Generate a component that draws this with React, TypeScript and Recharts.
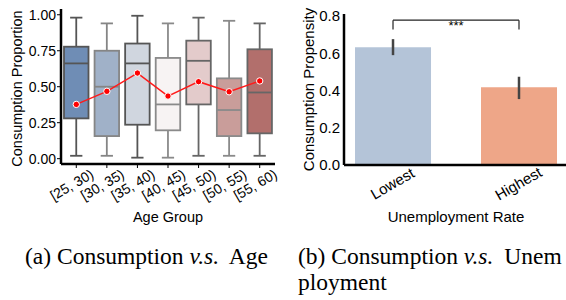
import React from "react";
import {
  ComposedChart,
  BarChart,
  Bar,
  Line,
  XAxis,
  YAxis,
  Cell,
  ErrorBar,
  ReferenceLine,
  ReferenceDot,
} from "recharts";

// ---------- Panel (a) data ----------
const ageGroups = ["[25, 30)", "[30, 35)", "[35, 40)", "[40, 45)", "[45, 50)", "[50, 55)", "[55, 60)"];
const whiskerLow = [0.02, 0.02, 0.007, 0.007, 0.02, 0.02, 0.02];
const quartile1 = [0.28, 0.157, 0.236, 0.197, 0.377, 0.157, 0.176];
const medians = [0.662, 0.5, 0.662, 0.377, 0.68, 0.338, 0.46];
const quartile3 = [0.778, 0.75, 0.8, 0.7, 0.82, 0.558, 0.76];
const whiskerHigh = [0.98, 0.94, 0.993, 0.94, 0.98, 0.958, 0.94];
const meanProportion = [0.377, 0.468, 0.595, 0.435, 0.535, 0.465, 0.54];
const leftTicks = [0, 0.25, 0.5, 0.75, 1.0];

// ---------- Panel (b) data ----------
const rates = ["Lowest", "Highest"];
const propensity = [0.632, 0.417];
const ciLow = [0.59, 0.354];
const ciHigh = [0.676, 0.474];
const bracketBottom = 0.728;
const bracketTop = 0.778;
const sigLabel = "***";
const rightTicks = [0, 0.2, 0.4, 0.6, 0.8];

// ---------- styles ----------
const boxFills = ["#6f8db5", "#a0b1c8", "#d0d6df", "#f7f3f3", "#e3cbcb", "#c99d9a", "#b26f6c"];
const boxEdges = ["#555555", "#858585", "#555555", "#8a8a8a", "#666666", "#8a8a8a", "#666666"];
const barFills = ["#b4c4d8", "#eea688"];
const FONT = "'Liberation Sans', Arial, sans-serif";
const SERIF = "'Liberation Serif', 'Times New Roman', serif";

const boxData = ageGroups.map((g, i) => ({
  group: g,
  lo: whiskerLow[i],
  q1: quartile1[i],
  med: medians[i],
  q3: quartile3[i],
  hi: whiskerHigh[i],
  mean: meanProportion[i],
}));

const barData = rates.map((r, i) => ({
  pos: i,
  name: r,
  value: propensity[i],
  err: [propensity[i] - ciLow[i], ciHigh[i] - propensity[i]],
}));

const BoxShape = (props: any) => {
  const { x, y, width, height, payload, index } = props;
  const { lo, hi, q1, q3, med } = payload;
  const py = (v: number) => y + (height * (hi - v)) / (hi - lo);
  const cx = x + width / 2;
  const edge = boxEdges[index];
  const cap = width / 4;
  return (
    <g>
      <line x1={cx} x2={cx} y1={py(hi)} y2={py(q3)} stroke={edge} strokeWidth={1.8} />
      <line x1={cx} x2={cx} y1={py(q1)} y2={py(lo)} stroke={edge} strokeWidth={1.8} />
      <line x1={cx - cap} x2={cx + cap} y1={py(hi)} y2={py(hi)} stroke={edge} strokeWidth={1.8} />
      <line x1={cx - cap} x2={cx + cap} y1={py(lo)} y2={py(lo)} stroke={edge} strokeWidth={1.8} />
      <rect
        x={x}
        y={py(q3)}
        width={width}
        height={py(q1) - py(q3)}
        fill={boxFills[index]}
        stroke={edge}
        strokeWidth={1.8}
      />
      <line x1={x} x2={x + width} y1={py(med)} y2={py(med)} stroke={edge} strokeWidth={1.8} />
    </g>
  );
};

const LeftTick = (props: any) => {
  const { x, y, payload } = props;
  return (
    <text
      x={x - 2}
      y={y + 19}
      textAnchor="middle"
      fontSize={14}
      fontFamily={FONT}
      fill="#000"
      transform={`rotate(-30, ${x - 2}, ${y + 19})`}
    >
      {payload.value}
    </text>
  );
};

const RightTick = (props: any) => {
  const { x, y, payload } = props;
  const label = rates[payload.value];
  return (
    <text
      x={x + 2}
      y={y + 23}
      textAnchor="middle"
      fontSize={15}
      fontFamily={FONT}
      fill="#000"
      transform={`rotate(-30, ${x + 2}, ${y + 23})`}
    >
      {label}
    </text>
  );
};

const MeanDot = (props: any) => {
  const { cx, cy } = props;
  return <circle cx={cx} cy={cy} r={3.2} fill="#ff0000" stroke="#ffffff" strokeWidth={1} />;
};

const frame = { stroke: "#000", strokeWidth: 2.5 };

const captionStyle: React.CSSProperties = {
  position: "absolute",
  fontFamily: SERIF,
  fontSize: 23.5,
  lineHeight: "26px",
  whiteSpace: "nowrap",
  color: "#000",
};

const vs = <i style={{ marginRight: 5 }}>v.s.</i>;

export default function App() {
  return (
    <div
      style={{
        position: "absolute",
        left: 0,
        top: 0,
        width: 566,
        height: 300,
        overflow: "hidden",
        background: "#fff",
      }}
    >
      <div style={{ position: "absolute", left: 0, top: 0 }}>
        <ComposedChart
          width={290}
          height={230}
          data={boxData}
          margin={{ top: 9, right: 15, left: 0, bottom: 0 }}
        >
          <XAxis
            dataKey="group"
            height={66}
            axisLine={frame}
            tickLine={{ stroke: "#000", strokeWidth: 1 }}
            tickSize={4}
            tickMargin={2}
            interval={0}
            tick={<LeftTick />}
            label={{
              value: "Age Group",
              position: "insideBottom",
              offset: 8,
              fontSize: 14.5,
              fontFamily: FONT,
              fill: "#000",
            }}
          />
          <XAxis
            xAxisId="top"
            dataKey="group"
            orientation="top"
            height={0}
            tick={false}
            tickLine={false}
            axisLine={frame}
          />
          <YAxis
            width={61}
            type="number"
            domain={[-0.037, 1.04]}
            ticks={leftTicks}
            tickFormatter={(v: number) => v.toFixed(2)}
            axisLine={frame}
            tickLine={{ stroke: "#000", strokeWidth: 1 }}
            tickSize={4}
            tickMargin={1}
            tick={{ fontSize: 14, fontFamily: FONT, fill: "#000" }}
            label={{
              value: "Consumption Proportion",
              angle: -90,
              position: "center",
              dx: -14,
              dy: 2,
              fontSize: 14.5,
              fontFamily: FONT,
              fill: "#000",
            }}
          />
          <YAxis
            yAxisId="right"
            orientation="right"
            width={0}
            type="number"
            domain={[-0.037, 1.04]}
            tick={false}
            tickLine={false}
            axisLine={frame}
          />
          <Bar
            dataKey={(d: any) => [d.lo, d.hi]}
            barSize={24.5}
            shape={<BoxShape />}
            isAnimationActive={false}
          />
          <Line
            dataKey="mean"
            type="linear"
            stroke="#ff1a1a"
            strokeWidth={1.5}
            dot={<MeanDot />}
            activeDot={false}
            isAnimationActive={false}
          />
        </ComposedChart>
      </div>

      <div style={{ position: "absolute", left: 290, top: 0 }}>
        <BarChart
          width={290}
          height={230}
          data={barData}
          margin={{ top: 14, right: 12, left: 0, bottom: 0 }}
        >
          <XAxis
            dataKey="pos"
            type="number"
            domain={[-0.389, 1.389]}
            ticks={[0, 1]}
            height={65}
            axisLine={frame}
            tickLine={false}
            tickSize={0}
            tickMargin={0}
            tick={<RightTick />}
            allowDataOverflow
            label={{
              value: "Unemployment Rate",
              position: "insideBottom",
              offset: 8,
              fontSize: 15,
              fontFamily: FONT,
              fill: "#000",
            }}
          />
          <XAxis
            xAxisId="top"
            dataKey="pos"
            type="number"
            domain={[-0.389, 1.389]}
            orientation="top"
            height={0}
            tick={false}
            tickLine={false}
            axisLine={frame}
          />
          <YAxis
            width={54}
            type="number"
            domain={[0, 0.811]}
            ticks={rightTicks}
            tickFormatter={(v: number) => v.toFixed(1)}
            axisLine={frame}
            tickLine={false}
            tickSize={0}
            tickMargin={4}
            tick={{ fontSize: 15, fontFamily: FONT, fill: "#000" }}
            label={{
              value: "Consumption Propensity",
              angle: -90,
              position: "center",
              dx: -8.5,
              dy: 0,
              fontSize: 15,
              fontFamily: FONT,
              fill: "#000",
            }}
          />
          <YAxis
            yAxisId="right"
            orientation="right"
            width={0}
            type="number"
            domain={[0, 0.811]}
            tick={false}
            tickLine={false}
            axisLine={frame}
          />
          <Bar dataKey="value" barSize={76} isAnimationActive={false}>
            {barData.map((d, i) => (
              <Cell key={d.name} fill={barFills[i]} />
            ))}
            <ErrorBar
              dataKey="err"
              width={0}
              stroke="#444444"
              strokeWidth={2.5}
              isAnimationActive={false}
            />
          </Bar>
          <ReferenceLine
            segment={[
              { x: 0, y: bracketBottom },
              { x: 0, y: bracketTop },
            ]}
            stroke="#222"
            strokeWidth={1.2}
          />
          <ReferenceLine
            segment={[
              { x: 0, y: bracketTop },
              { x: 1, y: bracketTop },
            ]}
            stroke="#222"
            strokeWidth={1.2}
          />
          <ReferenceLine
            segment={[
              { x: 1, y: bracketBottom },
              { x: 1, y: bracketTop },
            ]}
            stroke="#222"
            strokeWidth={1.2}
          />
          <ReferenceDot
            x={0.5}
            y={bracketTop}
            r={0}
            fill="none"
            stroke="none"
            label={{
              value: sigLabel,
              position: "bottom",
              offset: 1,
              fontSize: 13,
              fontFamily: FONT,
              fill: "#000",
            }}
          />
        </BarChart>
      </div>

      <div style={{ ...captionStyle, left: 25, top: 243 }}>
        (a) Consumption {vs} Age
      </div>
      <div style={{ ...captionStyle, left: 298, top: 243 }}>
        (b) Consumption {vs} Unem
      </div>
      <div style={{ ...captionStyle, left: 298, top: 269 }}>ployment</div>
    </div>
  );
}
